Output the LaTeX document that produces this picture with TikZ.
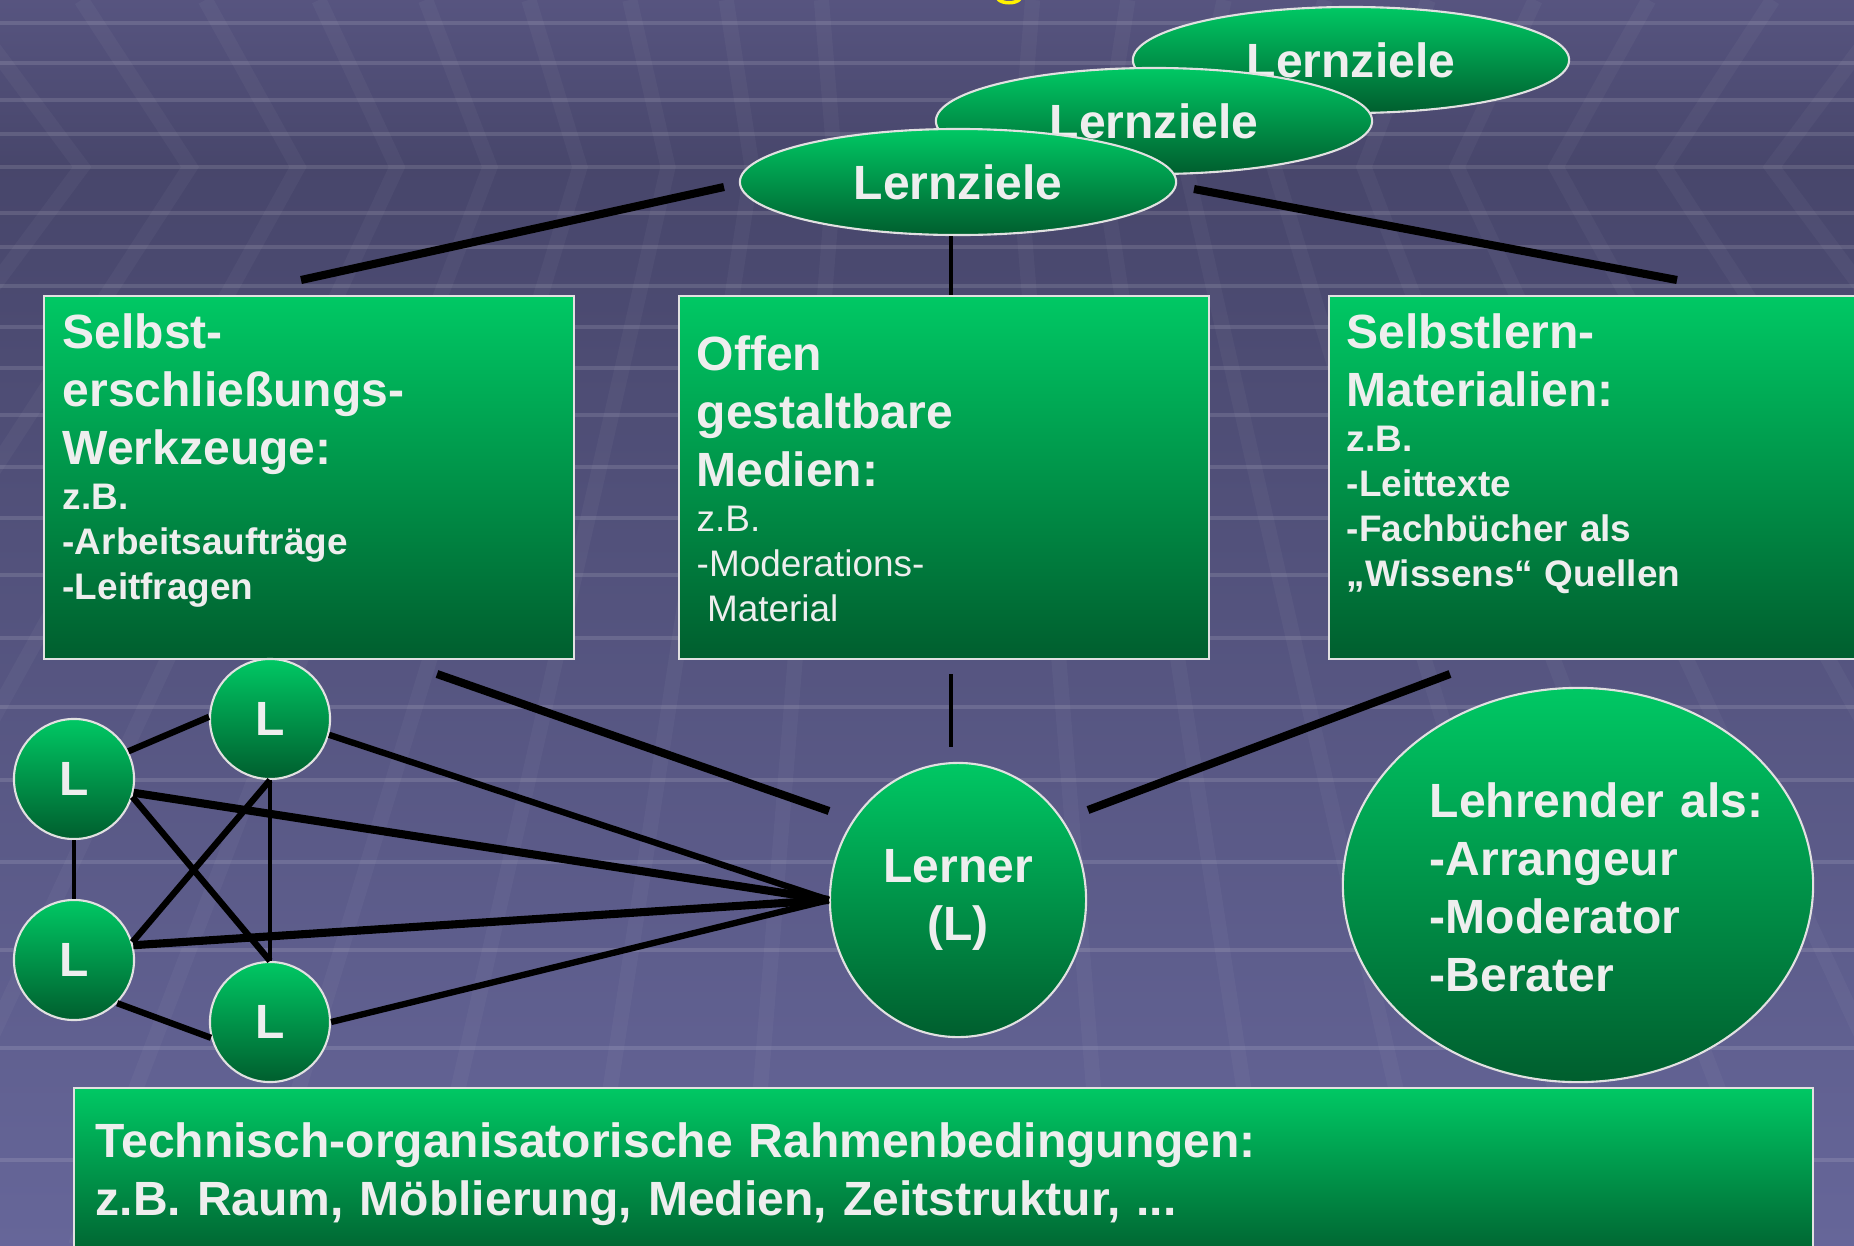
\documentclass[tikz,border=0pt]{standalone}
\usepackage{fontspec}
\setmainfont{Liberation Sans}
\usetikzlibrary{shapes.geometric}

\definecolor{boxtop}{RGB}{0,200,100}
\definecolor{boxbot}{RGB}{0,94,46}
\definecolor{txtgray}{RGB}{238,238,238}
\definecolor{rimgray}{RGB}{225,225,225}

\newcommand{\bigtxt}{\fontsize{13.66}{16.5}\selectfont\bfseries}
\newcommand{\smalltxt}{\fontsize{10.5}{12.8}\selectfont}

\pgfdeclareverticalshading{slidebg}{100bp}{%
  rgb(0bp)=(0.40,0.40,0.60); rgb(25bp)=(0.40,0.40,0.60);
  rgb(68.3bp)=(0.28,0.275,0.42);
  rgb(75bp)=(0.34,0.33,0.50); rgb(100bp)=(0.34,0.33,0.50)}

\begin{document}
\begin{tikzpicture}[x=0.01cm, y=-0.01cm,
    greenfill/.style={top color=boxtop, bottom color=boxbot, draw=rimgray, line width=0.6pt},
    box/.style={greenfill, rectangle, anchor=north west, inner sep=0pt,
      minimum width=5.3cm, minimum height=3.63cm},
    boxtext/.style={anchor=base west, inner sep=0pt, text=txtgray, text width=4.9cm, align=left},
    oval/.style={greenfill, ellipse, inner sep=0pt, text=txtgray, font=\bigtxt},
    lern/.style={greenfill, circle, inner sep=0pt, minimum size=1.2cm, text=txtgray, font=\bigtxt},
    link/.style={line width=2.3pt},
    midlink/.style={line width=1.8pt},
    thinlink/.style={line width=1.4pt},
    gridline/.style={white, opacity=0.12, line width=1.4pt},
    gridband/.style={white, opacity=0.035, line width=4.3pt}]

    \useasboundingbox (0,0) rectangle (1854,1245);
    \clip (0,0) rectangle (1854,1245);

    %==================== Background ====================
    \shade[shading=slidebg] (0,0) rectangle (1854,1245);

    % Floor/ceiling lines
    \foreach \yh in {23,63,100,134,167,213,247,286,327,368,415,467,518,575,638,707,780,862,950,1048,1160} {
      \draw[gridline] (0,\yh) -- (1854,\yh);
    }

    % Perspective bands
    \foreach \xv [evaluate=\xv as \xt using \xv-0.1474*(927-\xv),
                  evaluate=\xv as \xb using \xv-0.948*(927-\xv)]
        in {82,190,298,397,490,580,668,752,835,1019,1102,1186,1274,1364,1457,1556,1664,1772} {
      \draw[gridband] (\xt,0) -- (\xv,167) -- (\xb,1245);
    }

    % Title remnant
    \draw[yellow, line width=1pt] (998,-1) .. controls (1002,4) and (1016,4) .. (1020,-1);

    %==================== Goals ====================
    \node[oval, minimum width=4.36cm, minimum height=1.06cm] (lz1) at (1351,60) {Lernziele};
    \node[oval, minimum width=4.36cm, minimum height=1.06cm] (lz2) at (1154,121) {Lernziele};
    \node[oval, minimum width=4.36cm, minimum height=1.06cm] (lz3) at (958,182) {Lernziele};

    %==================== Boxes ====================
    \node[box] (werkz) at (43,295) {};
    \node[box] (medien) at (678,295) {};
    \node[box, minimum width=5.4cm] (material) at (1328,295) {};
    \node[box, minimum width=17.38cm, minimum height=1.75cm] (rahmen) at (73,1087) {};

    \node[boxtext] (werkzT) at (62,348)
      {{\bigtxt Selbst-\\erschließungs-\\Werkzeuge:\par}%
       {\smalltxt\bfseries z.B.\\-Arbeitsaufträge\\-Leitfragen\par}};
    \node[boxtext] (medienT) at (696,370)
      {{\bigtxt Offen\\gestaltbare\\Medien:\par}%
       {\smalltxt z.B.\\-Moderations-\\\hspace*{0.28em}Material\par}};
    \node[boxtext] (materialT) at (1346,348)
      {{\bigtxt Selbstlern-\\Materialien:\par}%
       {\smalltxt\bfseries z.B.\\-Leittexte\\-Fachbücher als\\„Wissens“ Quellen\par}};
    \node[boxtext, text width=16cm, font=\bigtxt] (rahmenT) at (95,1157)
      {Technisch-organisatorische Rahmenbedingungen:\\z.B. Raum, Möblierung, Medien, Zeitstruktur, ...};

    %==================== Learners ====================
    \node[lern] (l1) at (74,779) {L};
    \node[lern] (l2) at (270,719) {L};
    \node[lern] (l3) at (74,960) {L};
    \node[lern] (l4) at (270,1022) {L};

    \node[oval, minimum width=2.56cm, minimum height=2.74cm, align=center] (lerner) at (958,900) {Lerner\\(L)};

    % Teacher
    \node[oval, minimum width=4.7cm, minimum height=3.94cm] (lehr) at (1578,885) {};
    \node[boxtext, font=\bigtxt] (lehrT) at (1429,817)
      {Lehrender als:\\-Arrangeur\\-Moderator\\-Berater};

    %==================== Links ====================
    \coordinate (lzL) at (724,187);
    \coordinate (wkTop) at (301,280);
    \coordinate (lzR) at (1194,189);
    \coordinate (maTop) at (1677,280);
    \coordinate (wkBot) at (437,674);
    \coordinate (lnL) at (829,811);
    \coordinate (meBot) at (951,674);
    \coordinate (lnT) at (951,747);
    \coordinate (maBot) at (1450,674);
    \coordinate (lnR) at (1088,810);

    % Goals to boxes
    \draw[link] (lzL) -- (wkTop);
    \draw[link] (lzR) -- (maTop);
    \draw[thinlink] (meBot |- lz3.south) -- (meBot |- medien.north);

    % Boxes to learner
    \draw[link] (wkBot) -- (lnL);
    \draw[thinlink] (meBot) -- (lnT);
    \draw[link] (maBot) -- (lnR);

    % Learners among each other
    \draw[thinlink] (l1.south) -- (l3.north);
    \draw[midlink] (l1.27) -- (l2.178);
    \draw[midlink] (l1.-17) -- (l4.north);
    \draw[midlink] (l3.17) -- (l2.south);
    \draw[thinlink] (l2.south) -- (l4.north);
    \draw[midlink] (l3.-45) -- (l4.195);

    % Learners to the learner
    \draw[link] (l1.-13) -- (lerner.west);
    \draw[link] (l3.14) -- (lerner.west);
    \draw[midlink] (l2.-15) -- (lerner.west);
    \draw[midlink] (l4.east) -- (lerner.west);

\end{tikzpicture}
\end{document}
